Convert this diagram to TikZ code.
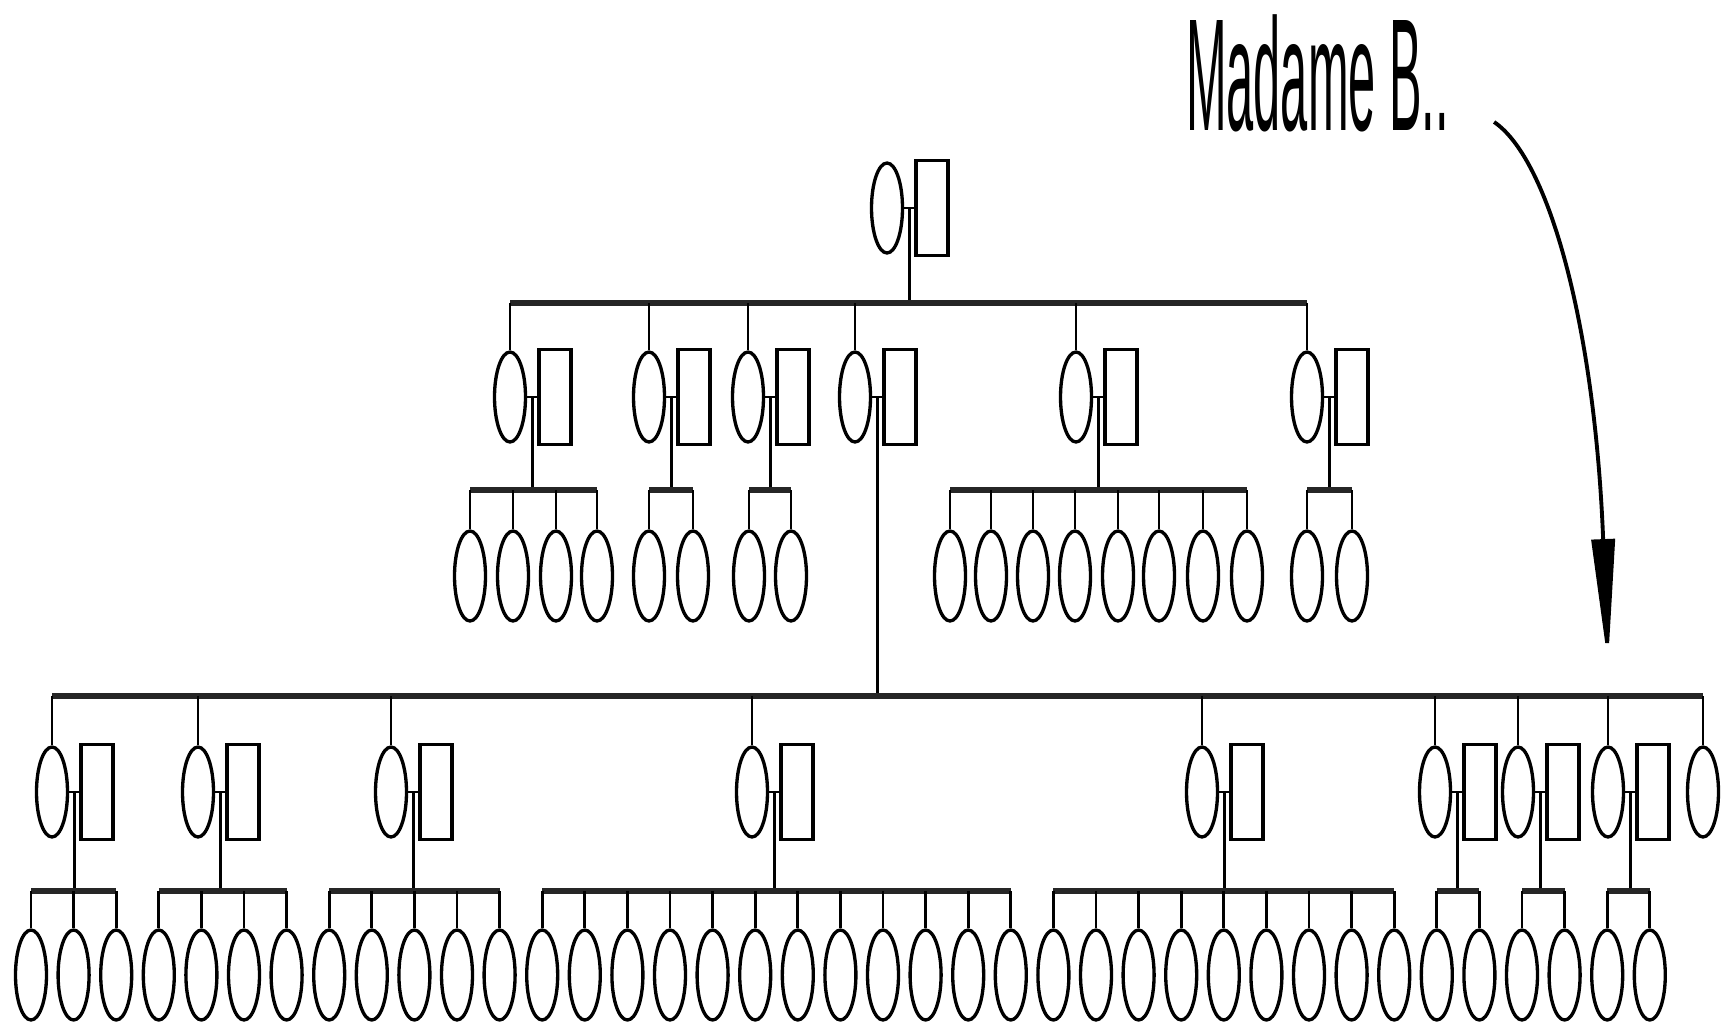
\documentclass[tikz,border=0pt]{standalone}
\usepackage{fontspec}
\newfontfamily\lblfont{Liberation Sans}
\usepackage{tikz}
\usetikzlibrary{arrows.meta,shapes.geometric}

\begin{document}
\begin{tikzpicture}[x=0.02cm,y=-0.02cm,
    woman/.style={draw,ellipse,line width=1.9pt,minimum width=0.62cm,minimum height=1.8cm,inner sep=0pt},
    man/.style={draw,rectangle,line width=1.9pt,minimum width=0.64cm,minimum height=1.9cm,inner sep=0pt},
    link/.style={line width=1.6pt},
    bar/.style={line width=3.2pt,black!85}]
  \useasboundingbox (0,0) rectangle (1734,1032);
  \coordinate (bar1) at (0,303);
  \coordinate (bar2) at (0,490);
  \coordinate (bar3) at (0,696);
  \coordinate (bar4) at (0,891);

  \foreach \n/\x/\y in {0/887/208, 1/510/397, 2/649/397, 3/748/397, 4/855/397, 5/1076/397, 6/1307/397,
     a/52/792, b/198/792, c/391/792, d/752/792, e/1202/792, f/1435/792, g/1518/792, h/1608/792}
  { \node[woman] (w\n) at (\x,\y) {};
    \node[man] (m\n) at (\x+45,\y) {};
    \draw[link] (w\n) -- coordinate (c\n) (m\n); }
  \node[woman] (wi) at (1703,792) {};

  \foreach \x [count=\k] in {470,513,556,597,649,693,749,791,950,991,1033,1075,1118,1159,1203,1247,1307,1352}
    \node[woman] (p\k) at (\x,576) {};
  \foreach \k in {1,...,39}
    \node[woman] (q\k) at ({31+42.6*(\k-1)},975) {};

  \draw[link] (c0) -- (c0 |- bar1);
  \draw[bar] (w1.north |- bar1) -- (w6.north |- bar1);
  \foreach \n in {1,...,6} \draw[link] (w\n.north |- bar1) -- (w\n.north);

  \foreach \n/\i/\j in {1/1/4, 2/5/6, 3/7/8, 5/9/16, 6/17/18}
  { \draw[link] (c\n) -- (c\n |- bar2);
    \draw[bar] (p\i.north |- bar2) -- (p\j.north |- bar2);
    \foreach \k in {\i,...,\j} \draw[link] (p\k.north |- bar2) -- (p\k.north); }

  \draw[link] (c4) -- (c4 |- bar3);
  \draw[bar] (wa.north |- bar3) -- (wi.north |- bar3);
  \foreach \n in {a,b,c,d,e,f,g,h,i} \draw[link] (w\n.north |- bar3) -- (w\n.north);

  \foreach \n/\i/\j in {a/1/3, b/4/7, c/8/12, d/13/24, e/25/33, f/34/35, g/36/37, h/38/39}
  { \draw[link] (c\n) -- (c\n |- bar4);
    \draw[bar] (q\i.north |- bar4) -- (q\j.north |- bar4);
    \foreach \k in {\i,...,\j} \draw[link] (q\k.north |- bar4) -- (q\k.north); }

  \node[font=\lblfont\fontsize{91}{100}\selectfont,xscale=0.305,anchor=base west,inner sep=0pt] (lbl) at (1186,130) {Madame B..};
  \coordinate (tip) at (1608,664);
  \draw[line width=2.2pt,-{Triangle[length=2.5cm,width=0.46cm]}] ([shift={(45,-8)}]lbl.base east)
    .. controls (1550,160) and (1595,330) .. (tip);
\end{tikzpicture}
\end{document}
